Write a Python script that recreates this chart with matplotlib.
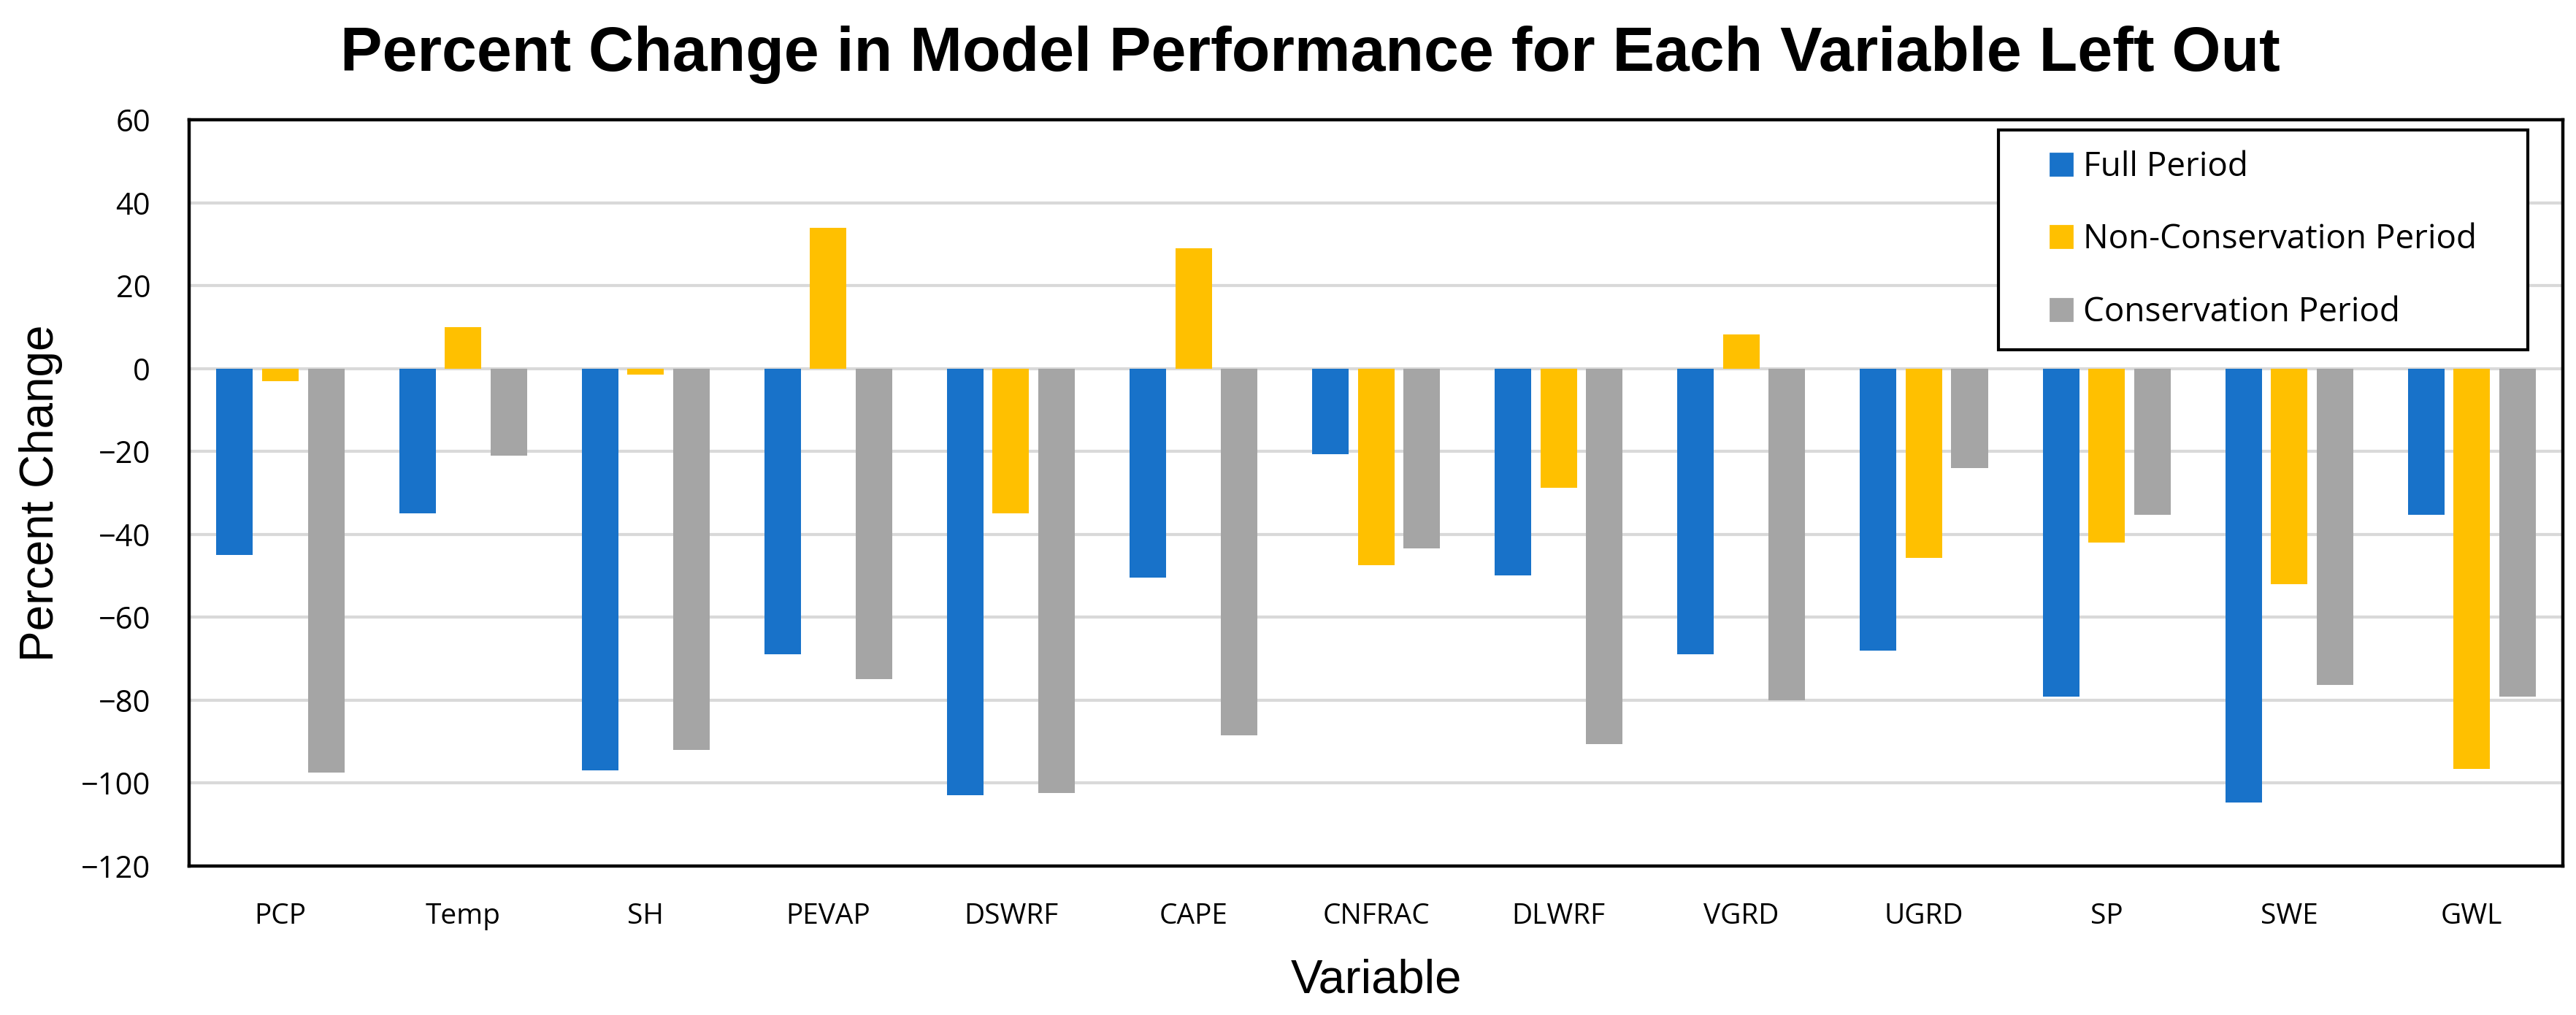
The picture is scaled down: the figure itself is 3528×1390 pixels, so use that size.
import numpy as np
import matplotlib.pyplot as plt
import matplotlib.patches as mpatches
from matplotlib.legend_handler import HandlerPatch

variables = ['PCP', 'Temp', 'SH', 'PEVAP', 'DSWRF', 'CAPE', 'CNFRAC',
             'DLWRF', 'VGRD', 'UGRD', 'SP', 'SWE', 'GWL']
full_period = [-45, -35, -97, -69, -103, -50.5, -20.7, -50, -69, -68, -79.2, -104.8, -35.3]
non_conservation = [-3, 10, -1.5, 34, -35, 29, -47.5, -28.8, 8.2, -45.7, -42, -52, -96.7]
conservation = [-97.5, -21, -92, -75, -102.5, -88.6, -43.4, -90.7, -80, -24.1, -35.3, -76.4, -79.2]

series = [('Full Period', full_period, '#1872C9'),
          ('Non-Conservation Period', non_conservation, '#FFC000'),
          ('Conservation Period', conservation, '#A5A5A5')]

fig = plt.figure(figsize=(17.64, 6.95), dpi=200)
ax = fig.add_axes([0.0734, 0.147, 0.9216, 0.735])

x = np.arange(len(variables))
width = 0.2
for i, (name, vals, color) in enumerate(series):
    ax.bar(x + (i - 1) * 0.25, vals, width, color=color, label=name, zorder=3)

ax.set_xlim(-0.5, len(variables) - 0.5)
ax.set_ylim(-120, 60)
ax.set_yticks(np.arange(-120, 61, 20))
ax.set_xticks(x)
ax.set_xticklabels(variables, fontfamily='Open Sans', fontsize=14)
for lbl in ax.get_yticklabels():
    lbl.set_fontfamily('Open Sans')
    lbl.set_fontsize(15)
ax.tick_params(length=0, pad=18)
ax.tick_params(axis='y', pad=19)
ax.yaxis.grid(True, color='#D9D9D9', linewidth=1.5, zorder=0)
for s in ax.spines.values():
    s.set_linewidth(1.6)
    s.set_color('black')

ax.set_xlabel('Variable', fontfamily='Liberation Sans', fontsize=23.5, labelpad=14)
ax.set_ylabel('Percent Change', fontfamily='Liberation Sans', fontsize=23, labelpad=9)
fig.suptitle('Percent Change in Model Performance for Each Variable Left Out',
             fontfamily='Liberation Sans', fontweight='bold', fontsize=31, x=0.5085, y=0.975)


# small square drawn at the right end of the handle slot
def square_handle(legend, orig_handle, xdescent, ydescent, width, height, fontsize):
    return mpatches.Rectangle((width - height - xdescent, -ydescent), height, height)


handles = [mpatches.Patch(color=c, label=n) for n, _, c in series]
leg = ax.legend(handles=handles, loc='upper left', bbox_to_anchor=(0.7622, 0.5, 0.223, 0.486),
                mode='expand', fancybox=False, edgecolor='black', framealpha=1,
                prop={'family': 'Open Sans', 'size': 16.5},
                labelspacing=1.17, handlelength=1.59, handleheight=0.63, borderpad=0.6,
                borderaxespad=0, handletextpad=0.33,
                handler_map={mpatches.Patch: HandlerPatch(patch_func=square_handle)})
leg.get_frame().set_linewidth(1.5)
leg.set_zorder(5)

fig.savefig('out.png', dpi=200)
